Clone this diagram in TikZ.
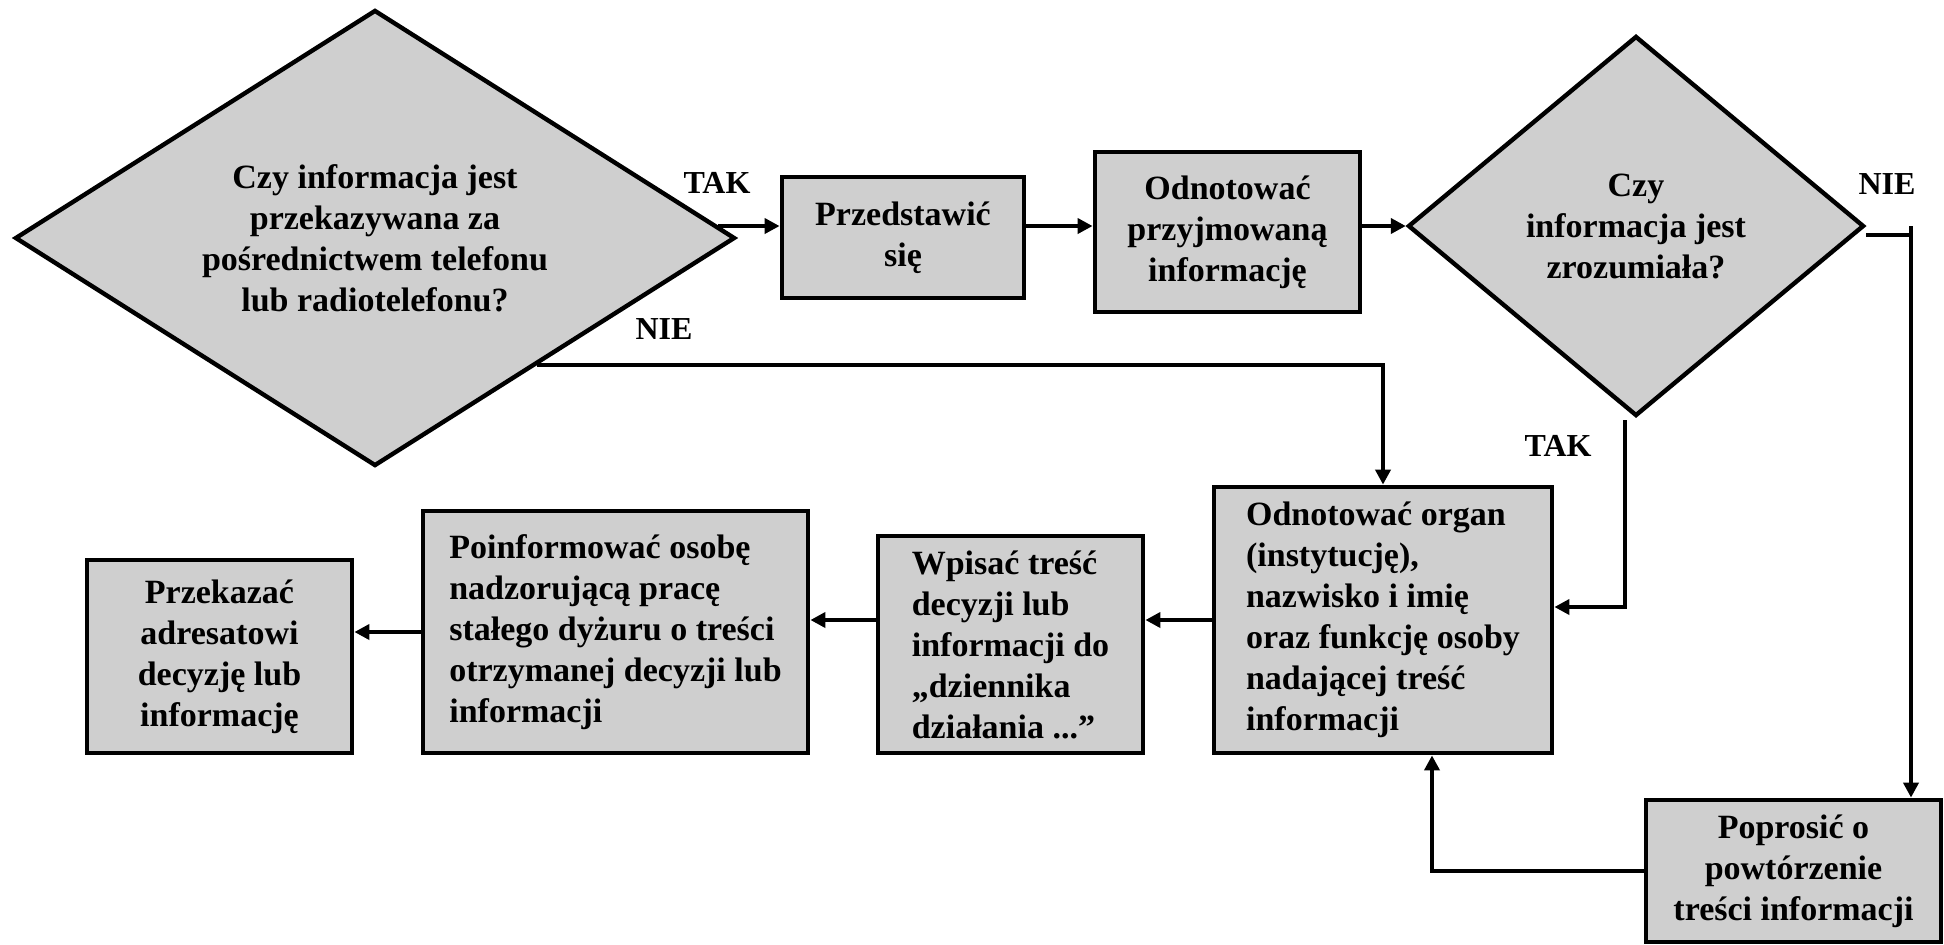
\documentclass[tikz,border=0pt]{standalone}
\usepackage{fontspec}
\setmainfont{Liberation Serif}
\usetikzlibrary{shapes.geometric, arrows.meta}
\definecolor{boxfill}{RGB}{207,207,207}
\begin{document}
\begin{tikzpicture}[x=0.5pt, y=-0.5pt,
  txt/.style={font=\fontsize{17pt}{20.5pt}\selectfont\bfseries},
  box/.style={txt, draw, line width=2.4pt, fill=boxfill, rectangle, inner sep=0pt, align=center},
  lbox/.style={box, align=left},
  dec/.style={txt, draw, line width=2.2pt, fill=boxfill, diamond, inner sep=0pt, align=center},
  arr/.style={line width=2pt, -{Triangle[length=7.5pt,width=7.5pt]}},
  ln/.style={line width=2pt},
  lbl/.style={font=\fontsize{16pt}{19pt}\selectfont\bfseries}
]
\useasboundingbox (0,0) rectangle (1944,944);

\node[dec, shape aspect=1.58, minimum width=360pt, minimum height=228pt] (d1) at (375,238) {Czy informacja jest\\przekazywana za\\pośrednictwem telefonu\\lub radiotelefonu?};
\node[box, minimum width=121pt, minimum height=60.5pt] (b1) at (903,237.5) {Przedstawić\\się};
\node[box, minimum width=132.5pt, minimum height=80pt] (b2) at (1227.5,232) {Odnotować\\przyjmowaną\\informację};
\node[dec, shape aspect=1.2, minimum width=228pt, minimum height=190pt] (d2) at (1636,226) {Czy\\informacja jest\\zrozumiała?};
\node[lbox, minimum width=169pt, minimum height=133pt] (b3) at (1383,620) {Odnotować organ\\(instytucję),\\nazwisko i imię\\oraz funkcję osoby\\nadającej treść\\informacji};
\node[lbox, minimum width=132.5pt, minimum height=108.5pt] (b4) at (1010.5,644.5) {Wpisać treść\\decyzji lub\\informacji do\\„dziennika\\działania ...”};
\node[lbox, minimum width=192.5pt, minimum height=121pt] (b5) at (615.5,632) {Poinformować osobę\\nadzorującą pracę\\stałego dyżuru o treści\\otrzymanej decyzji lub\\informacji};
\node[box, minimum width=132.5pt, minimum height=96.5pt] (b6) at (219.5,656.5) {Przekazać\\adresatowi\\decyzję lub\\informację};
\node[box, minimum width=147.5pt, minimum height=71pt] (b7) at (1793.5,871) {Poprosić o\\powtórzenie\\treści informacji};

\node[lbl] (tak1) at (717,183) {TAK};
\node[lbl] (nie1) at (664,329) {NIE};
\node[lbl] (nie2) at (1887,184) {NIE};
\node[lbl] (tak2) at (1558,446) {TAK};

\coordinate (nieA) at (1911,235);
\coordinate (nieTop) at (1911,226);
\coordinate (takA) at (1625,420);
\coordinate (takB) at (1625,607);
\coordinate (loopA) at (1432,871);

\draw[arr] (d1.2.85) -- (d1.2.85 -| b1.west);
\draw[arr] (b1.east |- d1.2.85) -- (b2.west |- d1.2.85);
\draw[arr] (b2.east |- d2.west) -- (d2.west);
\draw[arr] (d1.-38) -| (b3.north);
\draw[ln] (d2.east |- nieA) -- (nieA);
\draw[arr] (nieTop) -- (nieTop |- b7.north);
\draw[arr] (takA) -- (takB) -- (takB -| b3.east);
\draw[arr] (b3.west) -- (b3.west -| b4.east);
\draw[arr] (b4.west |- b3.west) -- (b5.east |- b3.west);
\draw[arr] (b5.west) -- (b5.west -| b6.east);
\draw[arr] (b7.west) -- (loopA) -- (loopA |- b3.south);
\end{tikzpicture}
\end{document}
